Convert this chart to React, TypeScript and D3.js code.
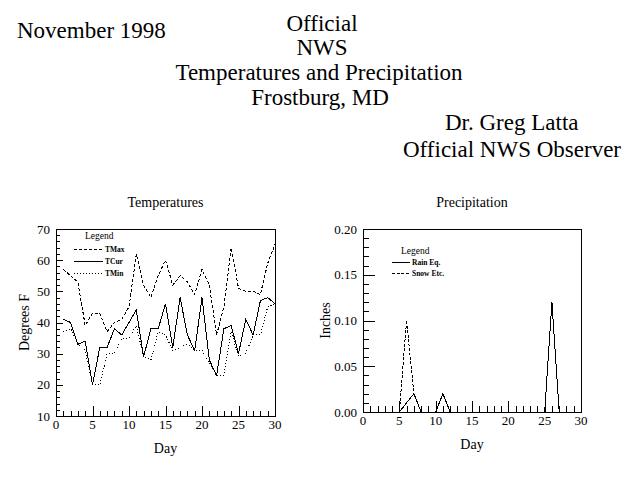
import React, { useRef, useEffect } from "react";
import * as d3 from "d3";

const days = [1, 2, 3, 4, 5, 6, 7, 8, 9, 10, 11, 12, 13, 14, 15, 16, 17, 18, 19, 20, 21, 22, 23, 24, 25, 26, 27, 28, 29, 30];
const tMax = [57, 55, 53, 39, 43, 43, 37, 40, 41, 45, 62, 52, 48, 55, 60, 52, 55, 53, 49, 57, 52, 36, 45, 64, 51, 50, 50, 49, 59, 65];
const tCur = [41, 40, 33, 34, 20, 32, 32, 38, 36, 40, 44, 29, 38, 38, 46, 32, 48, 36, 31, 48, 28, 23, 38, 39, 30, 41, 36, 47, 48, 46];
const tMin = [37, 38, 33, 31, 20, 20, 30, 30, 35, 35, 39, 29, 28, 37, 36, 31, 32, 33, 31, 31, 27, 23, 23, 37, 29, 30, 36, 36, 45, 46];
const rainEq = [0, 0, 0, 0, 0, 0.01, 0.02, 0, 0, 0, 0.02, 0, 0, 0, 0, 0, 0, 0, 0, 0, 0, 0, 0, 0, 0, 0.12, 0, 0, 0, 0];
const snowEtc = [0, 0, 0, 0, 0, 0.1, 0.02, 0, 0, 0, 0, 0, 0, 0, 0, 0, 0, 0, 0, 0, 0, 0, 0, 0, 0, 0, 0, 0, 0, 0];

const dayTicks = [0, 5, 10, 15, 20, 25, 30];
const tempTicks = [10, 20, 30, 40, 50, 60, 70];
const precipTicks = [0, 0.05, 0.1, 0.15, 0.2];

const tempSeries = [
  { label: "TMax", values: tMax, dash: "3,2" },
  { label: "TCur", values: tCur, dash: null },
  { label: "TMin", values: tMin, dash: "1,2" },
];
const precipSeries = [
  { label: "Rain Eq.", values: rainEq, dash: null },
  { label: "Snow Etc.", values: snowEtc, dash: "3,1.5" },
];

const FONT = "'Liberation Serif', 'Times New Roman', serif";

const W = 640;
const H = 493;

type Series = { label: string; values: number[]; dash: string | null };

interface PanelOpts {
  left: number;
  right: number;
  top: number;
  bottom: number;
  title: string;
  yTitle: string;
  yTitleX: number;
  yDomain: [number, number];
  yMajor: number[];
  yMinorStep: number;
  yFormat: (v: number) => string;
  xMajorLen: number;
  xMinorLen: number;
  yMajorLen: number;
  yMinorLen: number;
  series: Series[];
  legend: { x: number; y: number; lineLen: number; gap: number; titleDx: number; titleDy: number };
}

function drawPanel(svg: d3.Selection<SVGSVGElement, unknown, null, undefined>, o: PanelOpts) {
  const x = d3.scaleLinear().domain([0, 30]).range([o.left, o.right]);
  const y = d3.scaleLinear().domain(o.yDomain).range([o.bottom, o.top]);
  const g = svg.append("g");

  // box
  g.append("rect")
    .attr("x", o.left + 0.5)
    .attr("y", o.top + 0.5)
    .attr("width", o.right - o.left)
    .attr("height", o.bottom - o.top)
    .attr("fill", "none")
    .attr("stroke", "#000")
    .attr("shape-rendering", "crispEdges");

  // x ticks, every day, longer every 5
  d3.range(0, 31).forEach((d) => {
    const len = d % 5 === 0 ? o.xMajorLen : o.xMinorLen;
    g.append("line")
      .attr("x1", Math.round(x(d)) + 0.5)
      .attr("x2", Math.round(x(d)) + 0.5)
      .attr("y1", o.bottom)
      .attr("y2", o.bottom - len)
      .attr("stroke", "#000")
      .attr("shape-rendering", "crispEdges");
  });

  g.selectAll(".xlab")
    .data(dayTicks)
    .enter()
    .append("text")
    .attr("x", (d) => x(d))
    .attr("y", o.bottom + 13)
    .attr("text-anchor", "middle")
    .attr("font-family", FONT)
    .attr("font-size", 13)
    .text((d) => d);

  // y ticks
  const [y0, y1] = o.yDomain;
  const nMinor = Math.round((y1 - y0) / o.yMinorStep);
  d3.range(0, nMinor + 1).forEach((i) => {
    const v = y0 + i * o.yMinorStep;
    const isMajor = o.yMajor.some((m) => Math.abs(m - v) < 1e-9);
    g.append("line")
      .attr("x1", o.left)
      .attr("x2", o.left + (isMajor ? o.yMajorLen : o.yMinorLen))
      .attr("y1", Math.round(y(v)) + 0.5)
      .attr("y2", Math.round(y(v)) + 0.5)
      .attr("stroke", "#000")
      .attr("shape-rendering", "crispEdges");
  });

  g.selectAll(".ylab")
    .data(o.yMajor)
    .enter()
    .append("text")
    .attr("x", o.left - 6)
    .attr("y", (d) => y(d) + 4.5)
    .attr("text-anchor", "end")
    .attr("font-family", FONT)
    .attr("font-size", 13)
    .text((d) => o.yFormat(d));

  // titles
  g.append("text")
    .attr("x", (o.left + o.right) / 2)
    .attr("y", o.top - 22)
    .attr("text-anchor", "middle")
    .attr("font-family", FONT)
    .attr("font-size", 14)
    .text(o.title);

  g.append("text")
    .attr("x", (o.left + o.right) / 2)
    .attr("y", o.bottom + 37)
    .attr("text-anchor", "middle")
    .attr("font-family", FONT)
    .attr("font-size", 14)
    .text("Day");

  g.append("text")
    .attr("transform", `translate(${o.yTitleX},${(o.top + o.bottom) / 2}) rotate(-90)`)
    .attr("text-anchor", "middle")
    .attr("font-family", FONT)
    .attr("font-size", 14)
    .text(o.yTitle);

  // data lines
  const line = d3
    .line<number>()
    .x((_, i) => x(days[i]))
    .y((v) => y(v));

  o.series.forEach((s) => {
    g.append("path")
      .attr("d", line(s.values) as string)
      .attr("fill", "none")
      .attr("stroke", "#000")
      .attr("stroke-width", 1)
      .attr("stroke-dasharray", s.dash)
      .attr("shape-rendering", "crispEdges");
  });

  // legend
  const L = o.legend;
  g.append("text")
    .attr("x", L.x + L.titleDx)
    .attr("y", L.y + L.titleDy)
    .attr("font-family", FONT)
    .attr("font-size", 9.5)
    .text("Legend");

  o.series.forEach((s, i) => {
    const ly = L.y + i * L.gap;
    g.append("line")
      .attr("x1", L.x)
      .attr("x2", L.x + L.lineLen)
      .attr("y1", ly + 0.5)
      .attr("y2", ly + 0.5)
      .attr("stroke", "#000")
      .attr("stroke-dasharray", s.dash)
      .attr("shape-rendering", "crispEdges");
    g.append("text")
      .attr("x", L.x + L.lineLen + 2)
      .attr("y", ly + 3)
      .attr("font-family", FONT)
      .attr("font-size", 7.5)
      .attr("font-weight", "bold")
      .text(s.label);
  });
}

const App: React.FC = () => {
  const svgRef = useRef<SVGSVGElement | null>(null);

  useEffect(() => {
    if (!svgRef.current) return;
    const svg = d3.select(svgRef.current);
    svg.selectAll("*").remove();

    svg.append("rect").attr("width", W).attr("height", H).attr("fill", "#fff");

    // header block
    const header = [
      { text: "November 1998", x: 17, y: 38, anchor: "start" },
      { text: "Official", x: 322, y: 31, anchor: "middle" },
      { text: "NWS", x: 322, y: 55, anchor: "middle" },
      { text: "Temperatures and Precipitation", x: 319, y: 80, anchor: "middle" },
      { text: "Frostburg, MD", x: 320, y: 105, anchor: "middle" },
      { text: "Dr. Greg Latta", x: 445, y: 130, anchor: "start" },
      { text: "Official NWS Observer", x: 403, y: 157, anchor: "start" },
    ];
    svg
      .selectAll(".hdr")
      .data(header)
      .enter()
      .append("text")
      .attr("x", (d) => d.x)
      .attr("y", (d) => d.y)
      .attr("text-anchor", (d) => d.anchor)
      .attr("font-family", FONT)
      .attr("font-size", 23)
      .text((d) => d.text);

    drawPanel(svg, {
      left: 56,
      right: 275,
      top: 229,
      bottom: 416,
      title: "Temperatures",
      yTitle: "Degrees F",
      yTitleX: 29,
      yDomain: [10, 70],
      yMajor: tempTicks,
      yMinorStep: 2,
      yFormat: (v) => d3.format("d")(v),
      xMajorLen: 10,
      xMinorLen: 5,
      yMajorLen: 7,
      yMinorLen: 4,
      series: tempSeries,
      legend: { x: 74, y: 249, lineLen: 29, gap: 12, titleDx: 11, titleDy: -10 },
    });

    drawPanel(svg, {
      left: 363,
      right: 581,
      top: 229,
      bottom: 412,
      title: "Precipitation",
      yTitle: "Inches",
      yTitleX: 330,
      yDomain: [0, 0.2],
      yMajor: precipTicks,
      yMinorStep: 0.01,
      yFormat: (v) => d3.format(".2f")(v),
      xMajorLen: 11,
      xMinorLen: 6,
      yMajorLen: 12,
      yMinorLen: 6,
      series: precipSeries,
      legend: { x: 392, y: 262, lineLen: 18, gap: 11, titleDx: 9, titleDy: -8 },
    });
  }, []);

  return (
    <svg
      ref={svgRef}
      width={W}
      height={H}
      style={{ position: "absolute", left: 0, top: 0, display: "block" }}
    ></svg>
  );
};

export default App;
